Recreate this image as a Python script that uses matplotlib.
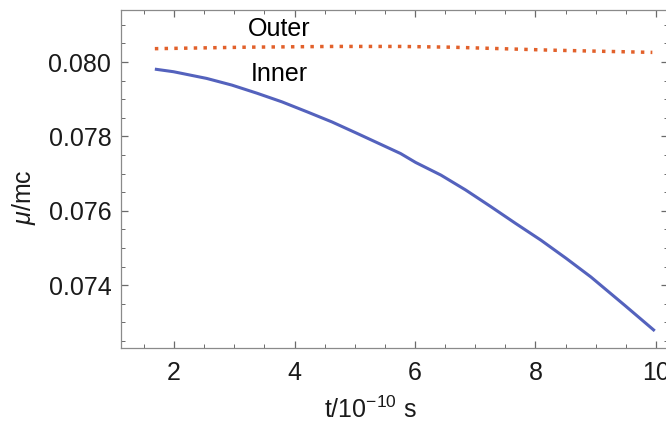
import numpy as np
import matplotlib
matplotlib.use("Agg")
import matplotlib.pyplot as plt
from matplotlib.ticker import MultipleLocator

plt.rcParams['font.family'] = ['Liberation Sans', 'DejaVu Sans']
plt.rcParams['mathtext.fontset'] = 'custom'
plt.rcParams['mathtext.rm'] = 'Liberation Sans'
plt.rcParams['mathtext.it'] = 'Liberation Sans:italic'

# values
t_inner = [1.68, 1.99, 2.54, 2.96, 3.38, 3.79, 4.21, 4.62, 5.04, 5.40, 5.76,
           6.01, 6.43, 6.84, 7.26, 7.67, 8.09, 8.51, 8.92, 9.48, 9.98]
mu_inner = [0.07981, 0.07974, 0.07956, 0.07938, 0.07916, 0.07893, 0.07866,
            0.07839, 0.07808, 0.07781, 0.07754, 0.07730, 0.07696, 0.07656,
            0.07611, 0.07566, 0.07521, 0.07472, 0.07422, 0.07346, 0.07277]

t_outer = [1.68, 3.2, 4.65, 5.76, 6.6, 8.26, 9.94]
mu_outer = [0.08036, 0.08040, 0.08042, 0.08042, 0.08040, 0.08032, 0.08026]

x_ticks = [2, 4, 6, 8, 10]
y_ticks = [0.074, 0.076, 0.078, 0.080]

W, H = 666, 425
fig = plt.figure(figsize=(W / 100, H / 100), dpi=100)
ax = fig.add_axes([121 / W, 1 - 348 / H, (668 - 121) / W, (348 - 10) / H])

ax.plot(t_inner, mu_inner, color='#5462bd', lw=2.2, solid_capstyle='butt')
ax.plot(t_outer, mu_outer, color='#e2612b', lw=2.5, linestyle=(0, (1, 1.8)),
        dash_capstyle='butt')

fs = 18
ax.text(3.75, 0.08090, "Outer", fontsize=fs, ha='center', va='center')
ax.text(3.75, 0.07968, "Inner", fontsize=fs, ha='center', va='center')

ax.set_xlim(1.118, 10.2)
ax.set_ylim(0.07231, 0.0814)
ax.set_xticks(x_ticks)
ax.set_yticks(y_ticks)
ax.set_yticklabels(["%.3f" % v for v in y_ticks])
ax.xaxis.set_minor_locator(MultipleLocator(0.5))
ax.yaxis.set_minor_locator(MultipleLocator(0.0005))

for s in ax.spines.values():
    s.set_color('#8a8a8a')
    s.set_linewidth(0.9)
ax.tick_params(which='both', direction='in', top=True, right=True,
               color='#6a6a6a', labelsize=fs, labelcolor='#1a1a1a')
ax.tick_params(which='major', length=5, width=0.9)
ax.tick_params(axis='x', which='major', pad=9)
ax.tick_params(axis='y', which='major', pad=7)
ax.tick_params(which='minor', length=3, width=0.7)

fig.text(370 / W, 1 - 410 / H, "t/10$^{-10}$ s", fontsize=fs,
         ha='center', va='center', color='#1a1a1a')
fig.text(24 / W, 1 - 197 / H, "$\\mu$/mc", fontsize=fs, rotation=90,
         ha='center', va='center', color='#1a1a1a')

fig.savefig("out.png", dpi=100)
